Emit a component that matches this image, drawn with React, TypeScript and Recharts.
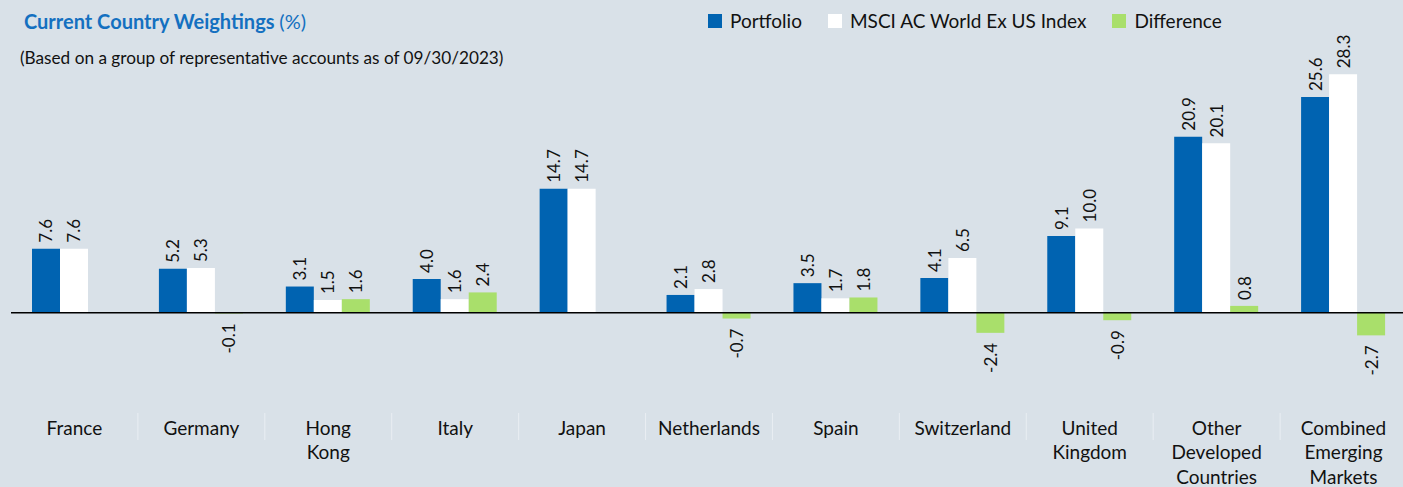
import { BarChart, Bar, XAxis, YAxis, ReferenceLine, LabelList } from 'recharts';

/* eslint-disable @typescript-eslint/no-explicit-any */

const countries = [
  'France', 'Germany', 'Hong Kong', 'Italy', 'Japan', 'Netherlands', 'Spain',
  'Switzerland', 'United Kingdom', 'Other Developed Countries', 'Combined Emerging Markets',
];
// how each category label wraps in the reference
const labelLines = [
  ['France'], ['Germany'], ['Hong', 'Kong'], ['Italy'], ['Japan'], ['Netherlands'], ['Spain'],
  ['Switzerland'], ['United', 'Kingdom'], ['Other', 'Developed', 'Countries'], ['Combined', 'Emerging', 'Markets'],
];
const portfolio = [7.6, 5.2, 3.1, 4.0, 14.7, 2.1, 3.5, 4.1, 9.1, 20.9, 25.6];
const benchmark = [7.6, 5.3, 1.5, 1.6, 14.7, 2.8, 1.7, 6.5, 10.0, 20.1, 28.3];
const difference = [0.0, -0.1, 1.6, 2.4, 0.0, -0.7, 1.8, -2.4, -0.9, 0.8, -2.7];

const data = countries.map((c, i) => ({
  name: c,
  idx: i,
  portfolio: portfolio[i],
  benchmark: benchmark[i],
  difference: difference[i],
}));

const FONT = 'Lato, "Noto Sans", sans-serif';
const BG = '#D9E1E8';
const BLUE = '#0063B1';
const GREEN = '#A9DF6B';
const BAND = 126.9;

const legendItems = [
  { label: 'Portfolio', color: BLUE },
  { label: 'MSCI AC World Ex US Index', color: '#FFFFFF' },
  { label: 'Difference', color: GREEN },
];

function ValueLabel(props: any) {
  const { x, y, width, height, value } = props;
  const top = Math.min(y, y + height);
  const bottom = Math.max(y, y + height);
  const cx = x + width / 2;
  const neg = value < 0;
  const ay = neg ? bottom + 10 : top - 6;
  return (
    <text
      x={cx}
      y={ay}
      transform={`rotate(-90, ${cx}, ${ay})`}
      textAnchor={neg ? 'end' : 'start'}
      dominantBaseline="central"
      fontSize={17}
      fontFamily={FONT}
      fill="#111"
    >
      {Number(value).toFixed(1)}
    </text>
  );
}

function CategoryTick(props: any) {
  const { x, y, payload } = props;
  const lines = labelLines[payload.index] ?? [payload.value];
  return (
    <g>
      {payload.index > 0 && (
        <line x1={x - BAND / 2} x2={x - BAND / 2} y1={y + 25} y2={y + 52} stroke="#E9EEF3" strokeWidth={1} />
      )}
      {lines.map((l: string, i: number) => (
        <text
          key={i}
          x={x}
          y={y + 39 + i * 24.5}
          textAnchor="middle"
          dominantBaseline="central"
          fontSize={19}
          fontFamily={FONT}
          fill="#111"
        >
          {l}
        </text>
      ))}
    </g>
  );
}

export default function App() {
  return (
    <div style={{ position: 'absolute', left: 0, top: 0, width: 1403, height: 487, overflow: 'hidden', background: BG }}>
      <div style={{ position: 'absolute', left: 24, top: 9, fontFamily: FONT, fontSize: 20, color: '#1470C0', fontWeight: 700 }}>
        Current Country Weightings <span style={{ fontWeight: 400 }}>(%)</span>
      </div>
      <div style={{ position: 'absolute', left: 20, top: 47, fontFamily: FONT, fontSize: 17.2, color: '#111' }}>
        (Based on a group of representative accounts as of 09/30/2023)
      </div>
      <div style={{ position: 'absolute', left: 708, top: 9, display: 'flex', alignItems: 'center', fontFamily: FONT, fontSize: 19, color: '#111' }}>
        {legendItems.map((it) => (
          <div key={it.label} style={{ display: 'flex', alignItems: 'center', marginRight: 26 }}>
            <span style={{ width: 14, height: 14, background: it.color, display: 'inline-block', marginRight: 8 }} />
            <span>{it.label}</span>
          </div>
        ))}
      </div>
      <BarChart
        width={1412}
        height={487}
        data={data}
        margin={{ top: 60, right: 5, bottom: 7, left: 11 }}
        barGap={0}
        barSize={28}
      >
        <XAxis
          dataKey="name"
          axisLine={false}
          tickLine={false}
          interval={0}
          height={100}
          tick={<CategoryTick />}
        />
        <YAxis hide domain={[-8, 30]} allowDataOverflow />
        <Bar dataKey="portfolio" fill={BLUE} isAnimationActive={false}>
          <LabelList dataKey="portfolio" content={<ValueLabel />} />
        </Bar>
        <Bar dataKey="benchmark" fill="#FFFFFF" isAnimationActive={false}>
          <LabelList dataKey="benchmark" content={<ValueLabel />} />
        </Bar>
        <Bar dataKey="difference" fill={GREEN} isAnimationActive={false}>
          <LabelList dataKey="difference" content={<ValueLabel />} />
        </Bar>
        <ReferenceLine y={0} stroke="#000" strokeWidth={1.5} />
      </BarChart>
    </div>
  );
}
